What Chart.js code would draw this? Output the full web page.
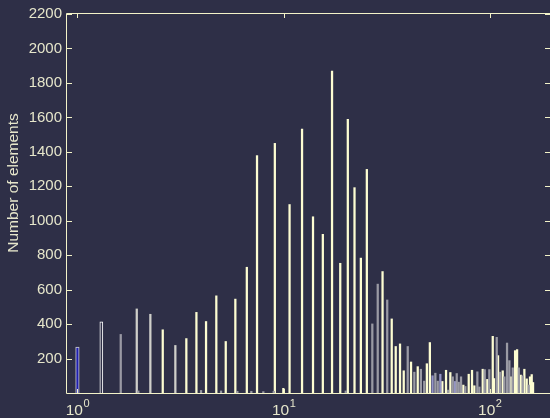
<!DOCTYPE html>
<html>
<head>
<meta charset="utf-8">
<script src="https://cdn.jsdelivr.net/npm/chart.js@4.4.1/dist/chart.umd.min.js"></script>
<style>
  html, body { margin: 0; padding: 0; background: #2e2f47; overflow: hidden; }
  #wrap { width: 550px; height: 418px; }
  canvas { display: block; }
</style>
</head>
<body>
<div id="wrap"><canvas id="c" width="550" height="418"></canvas></div>
<script>
// Axis limits and tick labels
const xLimits = [0.89, 196];
const yLimits = [0, 2200];
const xTickPowers = [0, 1, 2];
const yTickValues = [200, 400, 600, 800, 1000, 1200, 1400, 1600, 1800, 2000, 2200];
const yAxisTitle = 'Number of elements';

// Histogram bins (bin position, count), one pair of lists per shade
const blueX = [1.0];
const blueN = [267];

const outlineX = [1.306];
const outlineN = [413];

const silverX = [1.940, 2.258, 2.985];
const silverN = [488, 457, 276];

const grayX = [1.622, 1.974, 3.977, 4.972, 5.966, 6.975, 7.975, 8.959, 20.02, 26.94, 28.62, 31.82,
  40.01, 43.07, 46.32, 48.11, 54.46, 55.94, 62.76, 66.14, 69.16, 70.72, 72.56, 76.13, 87.06, 89.03,
  94.54, 99.54, 108.1, 112.2, 117.7, 121.3, 124.5, 129.3, 138.3, 144.5, 154.6];
const grayN = [340, 12, 15, 12, 10, 10, 8, 10, 12, 401, 632, 540,
  270, 121, 138, 69, 115, 69, 17, 94, 113, 63, 94, 38, 123, 35,
  136, 136, 323, 121, 94, 290, 188, 146, 146, 100, 46];

const lavenderX = [52.78, 57.59, 67.87];
const lavenderN = [100, 109, 67];

const creamX = [2.593, 3.375, 3.777, 4.206, 4.717, 5.241, 5.834, 6.632, 7.432, 9.069, 9.971, 10.69,
  12.29, 13.89, 15.50, 17.18, 18.83, 20.49, 22.08, 23.70, 25.34, 30.20, 33.46, 34.99, 36.71, 38.26,
  41.52, 44.74, 49.53, 51.22, 58.88, 61.37, 64.40, 74.45, 79.07, 82.04, 84.18, 92.45, 97.32, 103.4,
  104.9, 109.7, 115.6, 126.4, 132.7, 135.7, 141.4, 147.2, 151.1, 156.8, 159.8, 162.2];
const creamN = [367, 316, 468, 415, 564, 299, 545, 730, 1378, 1449, 27, 1094,
  1532, 1023, 921, 1868, 753, 1589, 1192, 783, 1298, 705, 430, 270, 285, 129,
  180, 153, 170, 293, 67, 132, 119, 46, 109, 132, 42, 138, 79, 329,
  84, 217, 129, 94, 246, 252, 104, 138, 82, 94, 107, 61];

// Colours
const BG = '#2e2f47';
const AXIS = '#f3f3c8';
const TEXT = '#e6e6cb';
const FONT = '"Liberation Sans", Arial, Helvetica, sans-serif';

const pairs = (xs, ns) => xs.map((x, i) => ({ x: x, y: ns[i] }));

function barSet(label, xs, ns, fill, thickness, border, bw) {
  return {
    label: label,
    data: pairs(xs, ns),
    backgroundColor: fill,
    borderColor: border || fill,
    borderWidth: bw || 0,
    borderSkipped: 'start',
    barThickness: thickness,
    grouped: false
  };
}

// Background, box, inward ticks, power-of-ten labels and y title
const axesFrame = {
  id: 'axesFrame',
  beforeDraw(chart) {
    const ctx = chart.ctx;
    ctx.save();
    ctx.fillStyle = BG;
    ctx.fillRect(0, 0, chart.width, chart.height);
    ctx.restore();
  },
  afterDatasetsDraw(chart) {
    const { ctx, chartArea: a, scales } = chart;
    const xs = scales.x, ys = scales.y;
    ctx.save();
    ctx.strokeStyle = AXIS;
    ctx.lineWidth = 1;
    ctx.beginPath();
    ctx.moveTo(a.left - 0.5, a.bottom + 0.5);
    ctx.lineTo(a.left - 0.5, a.top - 0.5);
    ctx.lineTo(a.right + 0.5, a.top - 0.5);
    ctx.lineTo(a.right + 0.5, a.bottom + 0.5);
    ctx.closePath();
    // y ticks on both sides
    yTickValues.forEach(v => {
      const py = Math.round(ys.getPixelForValue(v)) + 0.5;
      ctx.moveTo(a.left, py); ctx.lineTo(a.left + 5, py);
      ctx.moveTo(a.right, py); ctx.lineTo(a.right - 5, py);
    });
    // x ticks top and bottom
    xTickPowers.forEach(p => {
      const px = Math.round(xs.getPixelForValue(Math.pow(10, p))) + 0.5;
      ctx.moveTo(px, a.top); ctx.lineTo(px, a.top + 4);
      ctx.moveTo(px, a.bottom); ctx.lineTo(px, a.bottom - 4);
    });
    ctx.stroke();

    // power-of-ten labels
    ctx.fillStyle = TEXT;
    ctx.textBaseline = 'alphabetic';
    ctx.textAlign = 'left';
    xTickPowers.forEach(p => {
      const px = xs.getPixelForValue(Math.pow(10, p));
      const baseFont = '15.5px ' + FONT, expFont = '11px ' + FONT;
      ctx.font = baseFont;
      const wb = ctx.measureText('10').width;
      ctx.font = expFont;
      const we = ctx.measureText(String(p)).width;
      const x0 = px - (wb + we) / 2;
      ctx.font = baseFont;
      ctx.fillText('10', x0, a.bottom + 22);
      ctx.font = expFont;
      ctx.fillText(String(p), x0 + wb + 0.5, a.bottom + 14);
    });

    // y-axis title
    ctx.translate(14, 183);
    ctx.rotate(-Math.PI / 2);
    ctx.font = '15.5px ' + FONT;
    ctx.textAlign = 'center';
    ctx.textBaseline = 'middle';
    ctx.fillText(yAxisTitle, 0, 0);
    ctx.restore();
  }
};

new Chart(document.getElementById('c'), {
  type: 'bar',
  data: {
    datasets: [
      barSet('gray', grayX, grayN, '#9a9aa4', 1.6),
      barSet('lavender', lavenderX, lavenderN, '#9494c4', 1.6),
      barSet('silver', silverX, silverN, '#cfcfca', 1.6),
      barSet('cream', creamX, creamN, '#fdfdd2', 1.6),
      barSet('blue', blueX, blueN, '#1e1eb0', 3.5, '#d4d4d4', 1),
      barSet('outline', outlineX, outlineN, BG, 3, '#ffffff', 1)
    ]
  },
  options: {
    responsive: false,
    devicePixelRatio: 1,
    animation: false,
    events: [],
    layout: { padding: { top: 11, bottom: 25, left: 0, right: 0 } },
    plugins: { legend: { display: false }, tooltip: { enabled: false } },
    scales: {
      x: {
        type: 'logarithmic',
        display: false,
        min: xLimits[0],
        max: xLimits[1]
      },
      y: {
        type: 'linear',
        min: yLimits[0],
        max: yLimits[1],
        grid: { display: false, drawTicks: false },
        border: { display: false },
        afterFit: s => { s.width = 67; },
        afterBuildTicks: s => { s.ticks = yTickValues.map(v => ({ value: v })); },
        ticks: {
          autoSkip: false,
          padding: 5,
          color: TEXT,
          font: { family: FONT, size: 15 },
          callback: v => String(v)
        }
      }
    }
  },
  plugins: [axesFrame]
});
</script>
</body>
</html>
